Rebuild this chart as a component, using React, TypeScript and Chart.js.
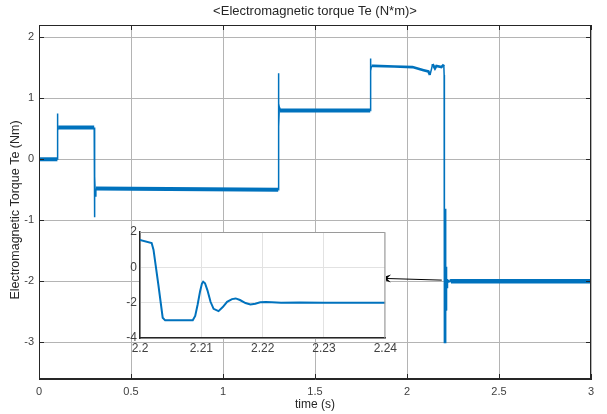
import React, { useEffect, useRef } from "react";
import { Chart, registerables } from "chart.js";

Chart.register(...registerables);

// ---------- data ----------
const mainTime = [
  0, 0.1, 0.1005, 0.101, 0.102, 0.104, 0.3, 0.301, 0.302, 0.304, 0.306, 0.309,
  1.3, 1.301, 1.302, 1.304, 1.306, 1.309, 1.8, 1.801, 1.802, 1.804, 1.807,
  1.82, 1.93, 2.03, 2.09, 2.116, 2.125, 2.134, 2.139, 2.152, 2.16, 2.187,
  2.2, 2.2019, 2.2022, 2.203, 2.2037, 2.2041, 2.2086, 2.209, 2.2094, 2.2098,
  2.2101, 2.2103, 2.2106, 2.211, 2.2115, 2.212, 2.2128, 2.2135, 2.2142, 2.215,
  2.2156, 2.2163, 2.2172, 2.218, 2.2188, 2.2196, 2.2205, 2.2215, 2.223, 2.226,
  2.23, 2.235, 2.24, 3.0,
];
const mainTorque = [
  0, 0, 0.5, 0.75, 0.47, 0.52, 0.52, -0.5, -0.95, -0.28, -0.6, -0.48,
  -0.5, 0.8, 1.41, 0.53, 0.85, 0.8, 0.8, 1.5, 1.65, 1.45, 1.53,
  1.53, 1.52, 1.51, 1.46, 1.44, 1.38, 1.49, 1.56, 1.49, 1.53, 1.51,
  1.55, 1.38, 1.0, -1.0, -2.85, -3.0, -3.0, -2.75, -2.1, -1.35,
  -0.92, -0.81, -0.9, -1.3, -1.95, -2.35, -2.48, -2.25, -1.95, -1.8,
  -1.76, -1.85, -2.02, -2.1, -2.06, -1.98, -1.96, -1.98, -2.01, -1.99,
  -2.0, -2.01, -2.0, -2.0,
];

const mainXTicks = [0, 0.5, 1, 1.5, 2, 2.5, 3];
const mainYTicks = [-3, -2, -1, 0, 1, 2];
const insetXTicks = [2.2, 2.21, 2.22, 2.23, 2.24];
const insetYTicks = [-4, -2, 0, 2];

const arrowTail = [2.189, -1.98];
const arrowHead = [1.853, -1.95];

const titleText = "<Electromagnetic torque Te (N*m)>";
const xTitle = "time (s)";
const yTitle = "Electromagnetic Torque Te (Nm)";

// ---------- styles ----------
const FONT = "'Liberation Sans', Arial, Helvetica, sans-serif";
const BLUE = "#0072BD";
const AXIS = "#262626";
const TICKTXT = "#404040";

const points = mainTime.map((t, i) => ({ x: t, y: mainTorque[i] }));

const bandWidth = (c: any) => {
  const a = c.p0.parsed;
  const b = c.p1.parsed;
  const flat = Math.abs(b.y - a.y) < 0.1 && b.x - a.x > 0.005;
  if (!flat) return 1.5;
  if (a.y > 1.2) return 2.6;
  if (a.y < -1.5) return 4.5;
  return 4;
};

const mainDecor = {
  id: "mainDecor",
  afterDraw(chart: any) {
    const { ctx, chartArea: a, scales } = chart;
    const xs = scales.x;
    const ys = scales.y;
    ctx.save();
    // box
    ctx.strokeStyle = AXIS;
    ctx.lineWidth = 1;
    ctx.strokeRect(a.left + 0.5, a.top + 0.5, a.right - a.left - 1, a.bottom - a.top - 1);
    // inward ticks on all sides
    ctx.beginPath();
    for (const v of mainXTicks) {
      const px = Math.round(xs.getPixelForValue(v)) + 0.5;
      ctx.moveTo(px, a.bottom);
      ctx.lineTo(px, a.bottom - 5);
      ctx.moveTo(px, a.top);
      ctx.lineTo(px, a.top + 5);
    }
    for (const v of mainYTicks) {
      const py = Math.round(ys.getPixelForValue(v)) + 0.5;
      ctx.moveTo(a.left, py);
      ctx.lineTo(a.left + 5, py);
      ctx.moveTo(a.right, py);
      ctx.lineTo(a.right - 5, py);
    }
    ctx.stroke();
    // title
    ctx.fillStyle = AXIS;
    ctx.font = `13px ${FONT}`;
    ctx.textAlign = "center";
    ctx.textBaseline = "middle";
    ctx.fillText(titleText, (a.left + a.right) / 2, 11);
    // y axis title
    ctx.save();
    ctx.translate(16, 210);
    ctx.rotate(-Math.PI / 2);
    ctx.font = `12.5px ${FONT}`;
    ctx.fillText(yTitle, 0, 0);
    ctx.restore();
    // arrow
    const x0 = xs.getPixelForValue(arrowTail[0]);
    const y0 = ys.getPixelForValue(arrowTail[1]);
    const x1 = xs.getPixelForValue(arrowHead[0]);
    const y1 = ys.getPixelForValue(arrowHead[1]);
    const ang = Math.atan2(y1 - y0, x1 - x0);
    const L = 11;
    const Wd = 4;
    ctx.strokeStyle = "#000";
    ctx.fillStyle = "#000";
    ctx.lineWidth = 1;
    ctx.beginPath();
    ctx.moveTo(x0, y0);
    ctx.lineTo(x1 - Math.cos(ang) * 6, y1 - Math.sin(ang) * 6);
    ctx.stroke();
    const bx = x1 - Math.cos(ang) * L;
    const by = y1 - Math.sin(ang) * L;
    const nx = -Math.sin(ang);
    const ny = Math.cos(ang);
    ctx.beginPath();
    ctx.moveTo(x1, y1);
    ctx.lineTo(bx + nx * Wd, by + ny * Wd);
    ctx.lineTo(x1 - Math.cos(ang) * 7, y1 - Math.sin(ang) * 7);
    ctx.lineTo(bx - nx * Wd, by - ny * Wd);
    ctx.closePath();
    ctx.fill();
    ctx.restore();
  },
};

const insetDecor = {
  id: "insetDecor",
  beforeDraw(chart: any) {
    const { ctx, chartArea: a } = chart;
    ctx.save();
    ctx.fillStyle = "#ffffff";
    ctx.fillRect(a.left, a.top, a.right - a.left, a.bottom - a.top);
    ctx.restore();
  },
  afterDraw(chart: any) {
    const { ctx, chartArea: a } = chart;
    ctx.save();
    ctx.strokeStyle = "#9a9a9a";
    ctx.lineWidth = 1;
    ctx.beginPath();
    ctx.moveTo(a.left, a.top + 0.5);
    ctx.lineTo(a.right - 0.5, a.top + 0.5);
    ctx.lineTo(a.right - 0.5, a.bottom);
    ctx.stroke();
    ctx.restore();
  },
};

export default function App() {
  const mainRef = useRef<HTMLCanvasElement | null>(null);
  const insetRef = useRef<HTMLCanvasElement | null>(null);

  useEffect(() => {
    if (!mainRef.current || !insetRef.current) return;
    const main = new Chart(mainRef.current, {
      type: "line",
      data: {
        datasets: [
          {
            data: points,
            borderColor: BLUE,
            borderWidth: 1.5,
            pointRadius: 0,
            tension: 0,
            segment: { borderWidth: bandWidth },
          } as any,
        ],
      },
      options: {
        animation: false,
        responsive: false,
        maintainAspectRatio: false,
        devicePixelRatio: 1,
        layout: { padding: { left: 0, right: 16, top: 25, bottom: 0 } },
        plugins: {
          legend: { display: false },
          tooltip: { enabled: false },
          title: { display: false },
        },
        scales: {
          x: {
            type: "linear",
            min: 0,
            max: 3,
            afterBuildTicks: (s: any) => {
              s.ticks = mainXTicks.map((v) => ({ value: v }));
            },
            afterFit: (s: any) => {
              s.height = 35;
            },
            grid: { color: "#b4b4b4", lineWidth: 1, drawTicks: false },
            border: { display: true, color: AXIS, width: 1 },
            ticks: {
              padding: 6,
              color: TICKTXT,
              font: { family: FONT, size: 11 },
              maxRotation: 0,
              autoSkip: false,
              callback: (v: any) => String(v),
            },
            title: {
              display: true,
              text: xTitle,
              color: AXIS,
              font: { family: FONT, size: 12 },
              padding: { top: 0, bottom: 2 },
            },
          },
          y: {
            type: "linear",
            min: -3.6,
            max: 2.2,
            afterBuildTicks: (s: any) => {
              s.ticks = mainYTicks.map((v) => ({ value: v }));
            },
            afterFit: (s: any) => {
              s.width = 39;
            },
            grid: { color: "#b4b4b4", lineWidth: 1, drawTicks: false },
            border: { display: true, color: AXIS, width: 1 },
            ticks: {
              padding: 5,
              color: TICKTXT,
              font: { family: FONT, size: 11 },
              autoSkip: false,
              callback: (v: any) => String(v),
            },
          },
        },
      },
      plugins: [mainDecor],
    } as any);

    const inset = new Chart(insetRef.current, {
      type: "line",
      data: {
        datasets: [
          {
            data: points,
            borderColor: BLUE,
            borderWidth: 2,
            pointRadius: 0,
            tension: 0,
          },
        ],
      },
      options: {
        animation: false,
        responsive: false,
        maintainAspectRatio: false,
        devicePixelRatio: 1,
        layout: { padding: { left: 0, right: 13, top: 12, bottom: 0 } },
        plugins: {
          legend: { display: false },
          tooltip: { enabled: false },
        },
        scales: {
          x: {
            type: "linear",
            min: 2.2,
            max: 2.24,
            afterBuildTicks: (s: any) => {
              s.ticks = insetXTicks.map((v) => ({ value: v }));
            },
            afterFit: (s: any) => {
              s.height = 22;
            },
            grid: { color: "#e2e2e2", lineWidth: 1, drawTicks: false },
            border: { display: true, color: AXIS, width: 1.5 },
            ticks: {
              padding: 3,
              color: TICKTXT,
              font: { family: FONT, size: 12 },
              maxRotation: 0,
              autoSkip: false,
              callback: (v: any) => String(Number(Number(v).toFixed(2))),
            },
          },
          y: {
            type: "linear",
            min: -4,
            max: 2,
            afterBuildTicks: (s: any) => {
              s.ticks = insetYTicks.map((v) => ({ value: v }));
            },
            afterFit: (s: any) => {
              s.width = 30;
            },
            grid: { color: "#e2e2e2", lineWidth: 1, drawTicks: false },
            border: { display: true, color: AXIS, width: 1.5 },
            ticks: {
              padding: 3,
              color: TICKTXT,
              font: { family: FONT, size: 12 },
              autoSkip: false,
              callback: (v: any) => String(v),
            },
          },
        },
      },
      plugins: [insetDecor],
    } as any);

    return () => {
      main.destroy();
      inset.destroy();
    };
  }, []);

  return (
    <div
      style={{
        position: "fixed",
        left: 0,
        top: 0,
        width: 607,
        height: 414,
        background: "#ffffff",
      }}
    >
      <canvas
        ref={mainRef}
        width={607}
        height={414}
        style={{ position: "absolute", left: 0, top: 0, width: 607, height: 414 }}
      />
      <canvas
        ref={insetRef}
        width={290}
        height={140}
        style={{ position: "absolute", left: 110, top: 220, width: 290, height: 140 }}
      />
    </div>
  );
}
